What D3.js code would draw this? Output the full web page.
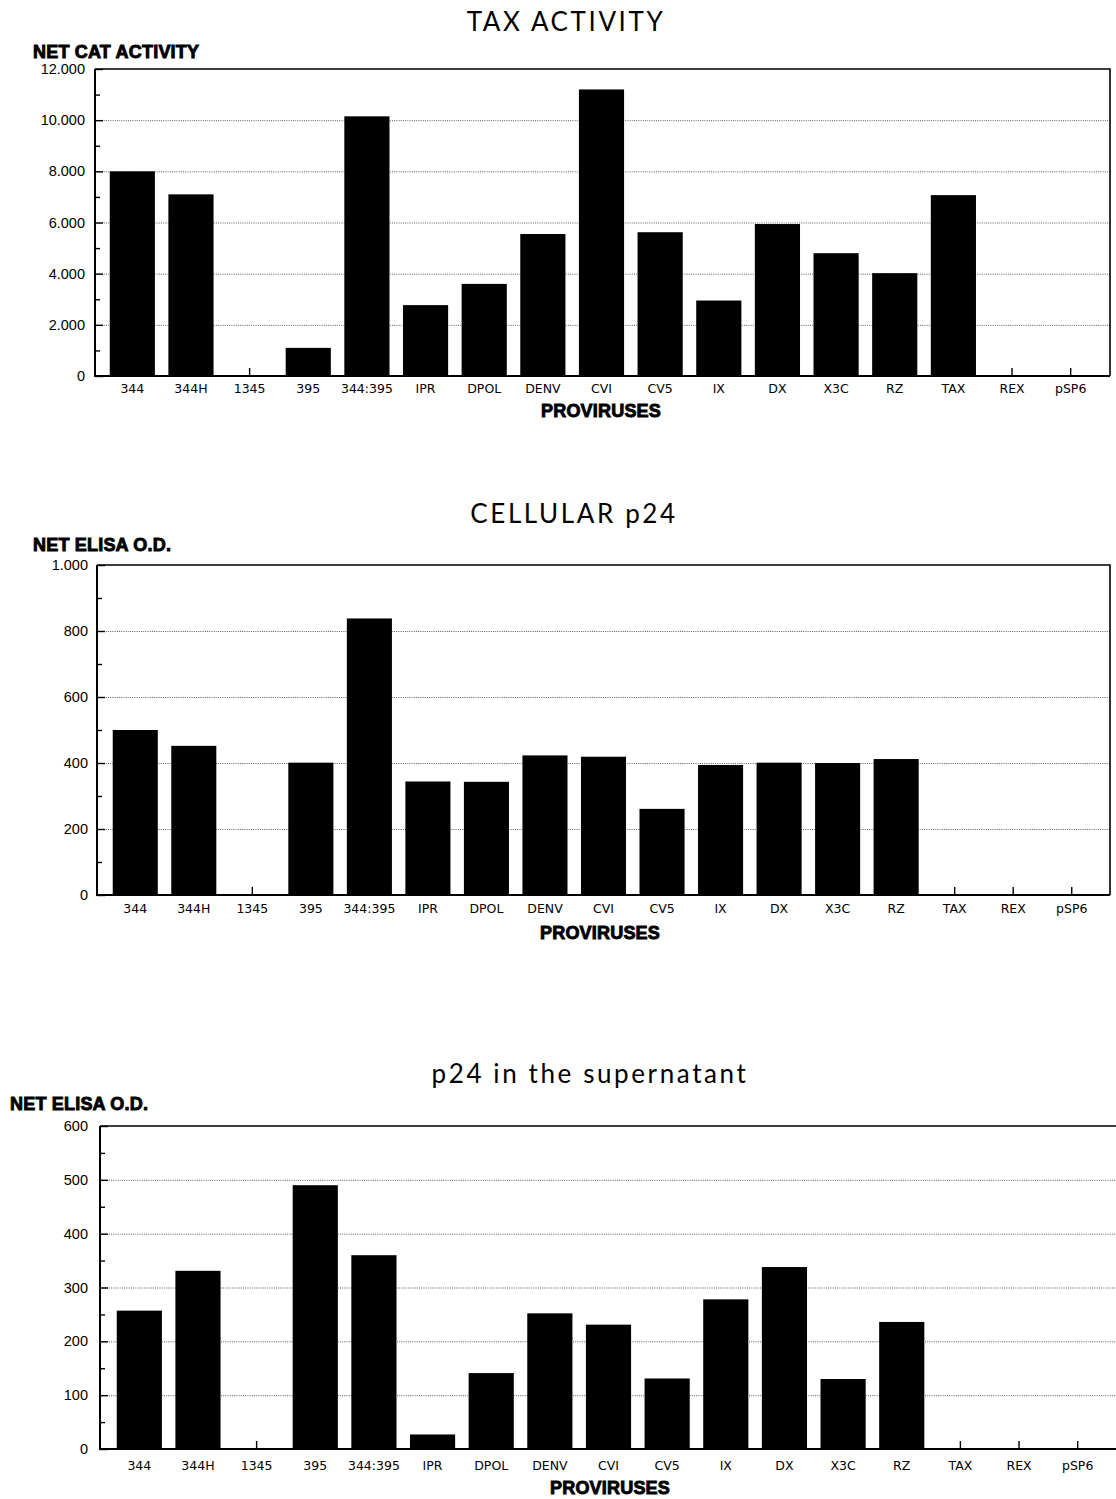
<!DOCTYPE html>
<html>
<head>
<meta charset="utf-8">
<script src="https://cdn.jsdelivr.net/npm/d3@7"></script>
<style>
  body { margin: 0; background: #fff; }
  .title { font-family: Lato, "Open Sans", sans-serif; font-weight: 400; font-size: 26px; letter-spacing: 2.6px; fill: #000; }
  .ylab, .xlab { font-family: "Liberation Sans", Arial, sans-serif; font-weight: bold; font-size: 18px; fill: #000; stroke: #000; stroke-width: 0.9px; letter-spacing: 0.2px; }
  .yax text { font-family: "Liberation Sans", Arial, sans-serif; font-size: 14.5px; fill: #000; }
  .xax text { font-family: "DejaVu Sans", sans-serif; font-size: 12.5px; fill: #000; }
</style>
</head>
<body>
<div id="chart"></div>
<script>
// categories shared by all three panels
const proviruses = ['344', '344H', '1345', '395', '344:395', 'IPR', 'DPOL', 'DENV', 'CVI', 'CV5', 'IX', 'DX', 'X3C', 'RZ', 'TAX', 'REX', 'pSP6']

// TAX ACTIVITY - net CAT activity
const catActivity = [8000, 7100, 0, 1100, 10150, 2770, 3600, 5550, 11200, 5620, 2950, 5940, 4800, 4020, 7070, 0, 0]
const catTicks = [0, 2000, 4000, 6000, 8000, 10000, 12000]

// CELLULAR p24 - net ELISA O.D.
const cellP24 = [500, 452, 0, 401, 838, 344, 343, 423, 419, 261, 394, 401, 400, 412, 0, 0, 0]
const cellTicks = [0, 200, 400, 600, 800, 1000]

// p24 in the supernatant - net ELISA O.D.
const supP24 = [257, 331, 0, 490, 360, 27, 141, 252, 231, 131, 278, 338, 130, 236, 0, 0, 0]
const supTicks = [0, 100, 200, 300, 400, 500, 600]

const svg = d3.select('#chart')
  .append('svg')
  .attr('width', 1116)
  .attr('height', 1499)

const fmt = d => d >= 1000 ? d3.format(',')(d).replace(/,/g, '.') : String(d)

function drawPanel (opt) {
  const {values, ticks, left, bandL, bandR, right, top, bottom} = opt
  const g = svg.append('g')
  const max = ticks[ticks.length - 1]
  const y = d3.scaleLinear().domain([0, max]).range([bottom, top])
  const x = d3.scaleBand().domain(proviruses).range([bandL, bandR])
    .paddingInner(0.23).paddingOuter(0.115)

  // dotted grid
  g.append('g')
    .attr('transform', `translate(${left},0)`)
    .call(d3.axisLeft(y).tickValues(ticks.slice(1, -1)).tickSize(-(right - left)).tickFormat(''))
    .call(s => s.select('.domain').remove())
    .selectAll('line')
    .attr('stroke', '#333')
    .attr('stroke-width', 0.8)
    .attr('stroke-dasharray', '1,1.2')

  // frame top + right
  g.append('path')
    .attr('d', `M${left},${top}H${right}V${bottom}`)
    .attr('fill', 'none')
    .attr('stroke', '#000')
    .attr('stroke-width', 1.6)

  // category ticks (upward) + labels
  const xa = g.append('g')
    .attr('class', 'xax')
    .attr('transform', `translate(0,${bottom})`)
    .call(d3.axisBottom(x).tickSize(-8).tickPadding(opt.xPad))
  xa.select('.domain').remove()
  xa.selectAll('line').attr('stroke', '#000').attr('stroke-width', 1.4)

  // bars
  g.append('g')
    .selectAll('rect')
    .data(values)
    .enter()
    .append('rect')
    .attr('x', (d, i) => x(proviruses[i]))
    .attr('width', x.bandwidth())
    .attr('y', d => y(d))
    .attr('height', d => bottom - y(d))
    .attr('fill', '#000')

  // minor ticks
  const step = ticks[1] - ticks[0]
  const minor = ticks.slice(0, -1).map(t => t + step / 2)
  g.append('g')
    .attr('transform', `translate(${left},0)`)
    .call(d3.axisLeft(y).tickValues(minor).tickSize(-5).tickFormat(''))
    .call(s => s.select('.domain').remove())
    .selectAll('line').attr('stroke', '#000').attr('stroke-width', 1.4)

  // y axis
  const ya = g.append('g')
    .attr('class', 'yax')
    .attr('transform', `translate(${left},0)`)
    .call(d3.axisLeft(y).tickValues(ticks).tickSize(-8).tickPadding(opt.yPad).tickFormat(fmt))
  ya.select('.domain').remove()
  ya.selectAll('line').attr('stroke', '#000').attr('stroke-width', 1.4)

  // axis lines
  g.append('path')
    .attr('d', `M${left},${top}V${bottom}H${right}`)
    .attr('fill', 'none')
    .attr('stroke', '#000')
    .attr('stroke-width', 2)

  g.append('text')
    .attr('class', 'title')
    .attr('x', opt.titleX)
    .attr('y', opt.titleY)
    .attr('text-anchor', 'middle')
    .text(opt.title)

  g.append('text')
    .attr('class', 'ylab')
    .attr('x', opt.ylabX)
    .attr('y', opt.ylabY)
    .text(opt.ylab)

  g.append('text')
    .attr('class', 'xlab')
    .attr('x', opt.xlabX)
    .attr('y', opt.xlabY)
    .attr('text-anchor', 'middle')
    .text('PROVIRUSES')
}

drawPanel({
  values: catActivity, ticks: catTicks,
  left: 95, bandL: 103, bandR: 1100, right: 1110, top: 69, bottom: 376,
  xPad: 8, yPad: 10,
  title: 'TAX ACTIVITY', titleX: 566, titleY: 31,
  ylab: 'NET CAT ACTIVITY', ylabX: 33, ylabY: 58,
  xlabX: 601, xlabY: 417
})

drawPanel({
  values: cellP24, ticks: cellTicks,
  left: 97, bandL: 106, bandR: 1101, right: 1110, top: 565, bottom: 895,
  xPad: 9, yPad: 9,
  title: 'CELLULAR p24', titleX: 574, titleY: 523,
  ylab: 'NET ELISA O.D.', ylabX: 33, ylabY: 551,
  xlabX: 600, xlabY: 939
})

drawPanel({
  values: supP24, ticks: supTicks,
  left: 100, bandL: 110, bandR: 1107, right: 1124, top: 1126, bottom: 1449,
  xPad: 12, yPad: 12,
  title: 'p24 in the supernatant', titleX: 590, titleY: 1083,
  ylab: 'NET ELISA O.D.', ylabX: 10, ylabY: 1110,
  xlabX: 610, xlabY: 1494
})
</script>
</body>
</html>
